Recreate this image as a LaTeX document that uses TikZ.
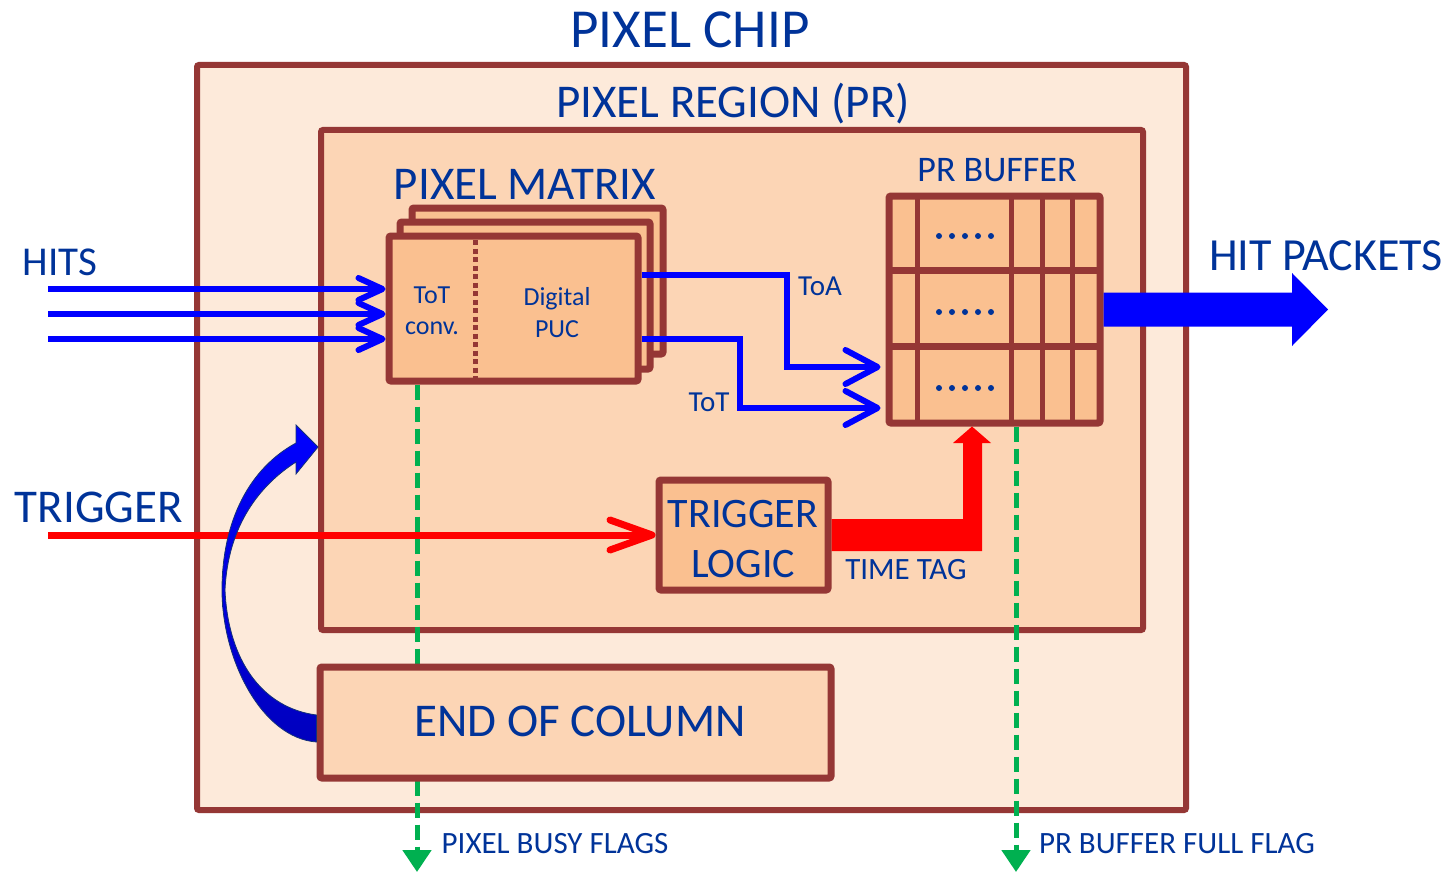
\documentclass[tikz,border=0pt]{standalone}
\usepackage{fontspec}
\setmainfont{Carlito}
\usetikzlibrary{arrows.meta,calc}
\definecolor{brd}{RGB}{149,55,53}
\definecolor{chipfill}{RGB}{253,234,218}
\definecolor{prfill}{RGB}{252,213,181}
\definecolor{cellfill}{RGB}{250,192,144}
\definecolor{txt}{RGB}{0,51,153}
\definecolor{flagg}{RGB}{0,176,80}
\definecolor{navy}{RGB}{20,50,120}
\newcommand{\fs}[1]{\fontsize{#1}{#1}\selectfont}
\begin{document}
\begin{tikzpicture}[x=1pt,y=-1pt,
  box/.style={draw=brd, line width=7pt, rounded corners=2pt, inner sep=0pt, fill=cellfill},
  lbl/.style={text=txt, inner sep=0pt, anchor=base},
  sig/.style={draw=blue, line width=6pt, line join=miter, -{Straight Barb[length=32pt,width=34pt,round]}},
  hit/.style={draw=blue, line width=6pt, -{Straight Barb[length=24pt,width=22pt,round]}},
  trg/.style={draw=red, line width=7pt, -{Straight Barb[length=42pt,width=30pt,round]}},
  flag/.style={draw=flagg, line width=5pt, dash pattern=on 15pt off 7pt, -{Triangle[length=22pt,width=28pt]}}
]
\useasboundingbox (0,0) rectangle (1454,872);
\fill[white] (0,0) rectangle (1454,872);

% boxes
\node[box, line width=6pt, fill=chipfill, minimum width=989pt, minimum height=745pt] (chip) at (691.5,437.5) {};
\node[box, line width=6pt, fill=prfill, minimum width=822pt, minimum height=500pt] (pr) at (732,380) {};
\node[box, minimum width=251pt, minimum height=146pt] (back) at (537.5,281) {};
\node[box, minimum width=250pt, minimum height=147pt] (mid) at (525,295.5) {};
\node[box, minimum width=249pt, minimum height=145pt] (front) at (513.5,308.5) {};
\node[box, minimum width=211pt, minimum height=227pt] (buf) at (994.5,309.5) {};
\node[box, minimum width=169pt, minimum height=110pt] (tl) at (743.5,535) {};

% flags (under the end-of-column box)
\coordinate (f1) at (417,872);
\coordinate (f2) at (1016,872);
\draw[flag] (front.south -| f1) -- (f1);
\draw[flag] (buf.south -| f2) -- (f2);

\node[box, fill=prfill, minimum width=511pt, minimum height=111pt] (eoc) at (575.5,722.5) {};

% matrix divider
\draw[brd, line width=5pt, dash pattern=on 5pt off 3.5pt] (475,240) -- (475,378);

% buffer internals
\foreach \yy in {270,346} \draw[brd, line width=7pt] (889,\yy) -- (1100,\yy);
\foreach \xx in {917,1011,1042,1072} \draw[brd, line width=5pt] (\xx,196) -- (\xx,423);
\foreach \yy in {236,312,388} \foreach \xx in {939,952,965,978,991} \fill[txt] (\xx,\yy) circle (3pt);

% titles
\node[lbl] (tchip) at (690,48) {\fs{55}PIXEL CHIP};
\node[lbl] (tpr) at (733,118) {\fs{47}PIXEL REGION (PR)};
\node[lbl] (tmat) at (525,199) {\fs{47}PIXEL MATRIX};
\node[lbl] (tbuf) at (997,182) {\fs{36}PR BUFFER};
\node[lbl] (thits) at (60,275) {\fs{41}HITS};
\node[lbl] (thp) at (1326,270) {\fs{46}HIT PACKETS};
\node[lbl] (ttrg) at (99,522) {\fs{47}TRIGGER};
\node[lbl] (ttot1) at (432,303) {\fs{26}ToT};
\node[lbl] (ttot2) at (432,334) {\fs{26}conv.};
\node[lbl] (tdig1) at (557,305) {\fs{26}Digital};
\node[lbl] (tdig2) at (557,337) {\fs{26}PUC};
\node[lbl] (ttoa) at (820,295) {\fs{29}ToA};
\node[lbl] (ttott) at (709,411) {\fs{29}ToT};
\node[lbl] (ttl1) at (743,527) {\fs{42}TRIGGER};
\node[lbl] (ttl2) at (743,577) {\fs{42}LOGIC};
\node[lbl] (ttag) at (906,579) {\fs{31}TIME TAG};
\node[lbl] (teoc) at (580,736) {\fs{47}END OF COLUMN};
\node[lbl] (tpbf) at (555,853) {\fs{31}PIXEL BUSY FLAGS};
\node[lbl] (tfull) at (1177,853) {\fs{31}PR BUFFER FULL FLAG};

% hits
\coordinate (h1) at (48,289);
\coordinate (h2) at (48,314);
\coordinate (h3) at (48,339);
\foreach \h in {h1,h2,h3} \draw[hit] (\h) -- (\h -| front.west);

% ToA / ToT
\draw[sig] (front.east |- 0,275) -- (787,275) -- (787,367) -- ([xshift=-5pt]buf.west |- 0,367);
\draw[sig] (front.east |- 0,339) -- (740,339) -- (740,408) -- ([xshift=-5pt]buf.west |- 0,408);

% hit packets arrow
\fill[blue] ($(buf.east)+(0,-17)$) -- (1292,292.5) -- (1292,273) -- (1328,309.5) -- (1292,346) -- (1292,326.5) -- ($(buf.east)+(0,17)$) -- cycle;

% trigger
\coordinate (trgin) at (48,535);
\draw[trg] (trgin) -- (tl.west);

% time tag arrow
\fill[red] ($(tl.east)+(0,-16)$) -- (963,519) -- (963,443) -- (953,443) -- (buf.south -| 972,0) -- (991,443) -- (982,443) -- (982,551) -- ($(tl.east)+(0,16)$) -- cycle;

% curved feedback arrow
\shade[top color=blue, bottom color={rgb,255:red,0;green,0;blue,190}, draw=navy, line width=0.8pt]
  ($(eoc.west)+(0,19.5)$) .. controls (262,738) and (222,660) .. (222,590)
  .. controls (222,520) and (250,468) .. (296,443) -- (296,425) -- (pr.west |- 0,447) -- (296,474) -- (296,462)
  .. controls (260,485) and (228,525) .. (225,590)
  .. controls (228,660) and (262,708) .. ($(eoc.west)+(0,-7.5)$) -- cycle;
\end{tikzpicture}
\end{document}
